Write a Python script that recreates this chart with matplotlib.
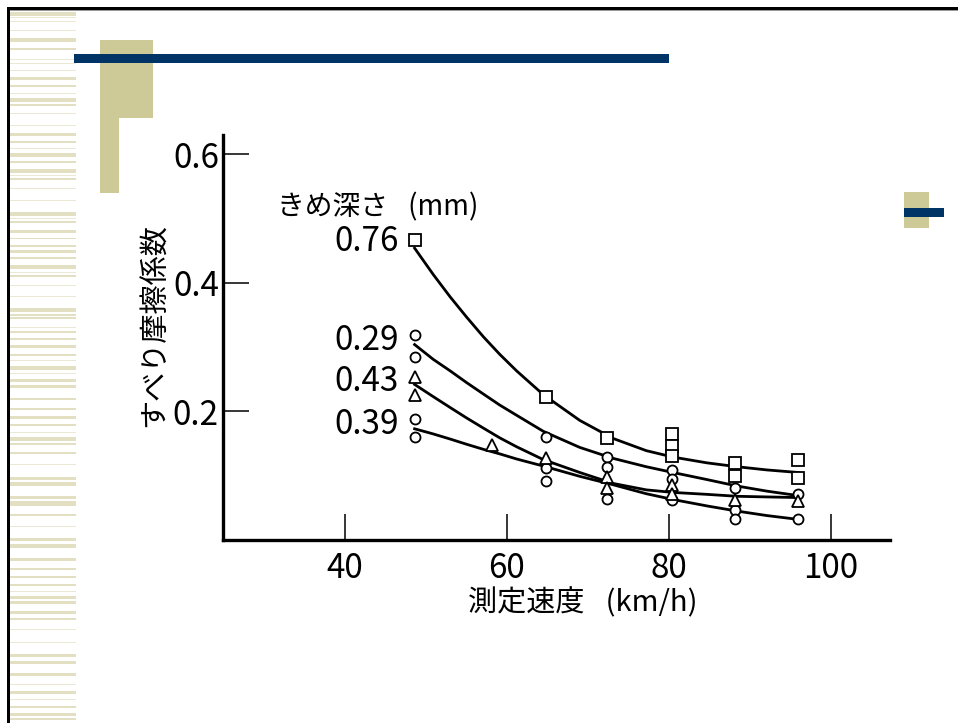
"""
Skid friction coefficient vs measuring speed, by texture depth (slide reproduction).
"""

import matplotlib.pyplot as plt
from matplotlib.patches import Rectangle

plt.rcParams["font.family"] = ["Noto Sans CJK JP", "DejaVu Sans"]

W, H = 958, 723

# texture depth labels (mm)
DEPTHS = ["0.76", "0.29", "0.43", "0.39"]

SQ_X = [48.6, 64.8, 72.4, 80.4, 80.4, 80.4, 88.2, 88.2, 96.0, 96.0]
SQ_Y = [0.466, 0.223, 0.158, 0.165, 0.147, 0.130, 0.120, 0.100, 0.125, 0.097]

C29_X = [48.6, 48.6, 64.8, 72.4, 72.4, 80.4, 80.4, 88.2, 96.0]
C29_Y = [0.319, 0.285, 0.161, 0.129, 0.114, 0.109, 0.095, 0.081, 0.072]

TRI_X = [48.6, 48.6, 58.2, 64.8, 72.4, 72.4, 80.4, 80.4, 88.2, 96.0]
TRI_Y = [0.253, 0.226, 0.148, 0.128, 0.098, 0.081, 0.085, 0.072, 0.063, 0.060]

C39_X = [48.6, 48.6, 64.8, 64.8, 72.4, 80.4, 88.2, 88.2, 96.0]
C39_Y = [0.188, 0.160, 0.112, 0.092, 0.064, 0.062, 0.047, 0.032, 0.032]

# fitted curves
CURVE_X = [48.6, 50.9, 53.0, 55.0, 57.1, 59.1, 61.2, 64.5,
           69.0, 73.1, 77.2, 80.5, 84.7, 88.4, 92.1, 96.0]
CURVE_076 = [0.454, 0.413, 0.378, 0.347, 0.316, 0.289, 0.263, 0.226,
             0.186, 0.158, 0.139, 0.129, 0.120, 0.114, 0.109, 0.105]
CURVE_029 = [0.304, 0.281, 0.263, 0.245, 0.227, 0.210, 0.194, 0.169,
             0.144, 0.127, 0.114, 0.105, 0.094, 0.084, 0.076, 0.069]
CURVE_043 = [0.242, 0.223, 0.206, 0.190, 0.174, 0.159, 0.145, 0.125,
             0.105, 0.088, 0.078, 0.074, 0.071, 0.068, 0.067, 0.066]
CURVE_039 = [0.173, 0.165, 0.157, 0.149, 0.141, 0.134, 0.126, 0.115,
             0.099, 0.086, 0.072, 0.063, 0.053, 0.045, 0.038, 0.032]

X_TICKS = [40, 60, 80, 100]
Y_TICKS = [0.2, 0.4, 0.6]

# slide background stripes (top px, height px)
STRIPES = [
    (12, 3.5), (17, 1), (21, 1.2), (30, 1), (38, 4), (48, 2), (59, 1.2), (63, 1),
    (70, 1), (77, 3), (85, 1.5), (93, 1), (98, 3.5), (104, 1.5), (113, 1), (125, 1),
    (133, 3), (141, 1.5), (148, 1), (153, 4), (161, 1.5), (169, 4), (175, 1),
    (178, 1.5), (188, 1), (200, 1), (212, 4), (218, 1.2), (221, 1.5), (230, 3),
    (238, 1.5), (245, 1.5), (250, 3), (257, 1.5), (265, 3.5), (272, 1), (275, 1.5),
    (285, 1), (296, 1), (308, 4), (314, 1.5), (317, 2), (327, 1), (331, 2),
    (338, 1.5), (345, 3), (354, 1.5), (360, 1), (366, 3.5), (373, 1), (379, 2.5),
    (385, 3), (398, 2), (408, 1.5), (416, 2.5), (424, 1.5), (432, 1), (437, 4),
    (443, 1.5), (452, 1.5), (464, 1), (477, 3), (482, 4), (496, 3), (501, 5),
    (514, 1.5), (526, 1), (538, 3), (544, 4), (558, 3), (568, 1.5), (576, 1.5),
    (584, 1.5), (591, 1), (596, 3), (601, 3), (611, 3), (618, 2), (629, 1),
    (642, 1), (654, 3), (661, 3), (673, 3), (684, 1), (691, 3), (699, 1),
    (706, 2), (713, 2.5), (718, 2),
]

BEIGE = "#cdca98"
BLUE = "#003366"


def px_rect(fig, x, y, w, h, color, z=0):
    fig.add_artist(Rectangle((x / W, 1 - (y + h) / H), w / W, h / H,
                             transform=fig.transFigure, facecolor=color,
                             edgecolor="none", zorder=z))


fig = plt.figure(figsize=(W / 100, H / 100), dpi=100)

# slide decorations
for top, hgt in STRIPES:
    col = "#ebe9d6" if hgt <= 1.2 else "#e2dfc2"
    px_rect(fig, 10, top, 66, hgt, col)
px_rect(fig, 100, 40, 53, 78, BEIGE)
px_rect(fig, 100, 118, 19, 75, BEIGE)
px_rect(fig, 74, 54, 595, 9, BLUE, 1)
px_rect(fig, 904, 192, 25, 36, BEIGE)
px_rect(fig, 904, 208, 40, 9, BLUE, 1)
px_rect(fig, 7, 6.5, 951, 3, "black", 2)
px_rect(fig, 7, 9.5, 951, 1, "#999999", 2)
px_rect(fig, 7, 6.5, 3, 717, "black", 2)

ax = fig.add_axes([223 / W, 1 - 540 / H, (890 - 223) / W, (540 - 135) / H])
ax.set_xlim(24.94, 107.3)
ax.set_ylim(0, 0.63)
ax.patch.set_alpha(0)
for side in ("top", "right"):
    ax.spines[side].set_visible(False)
for side in ("left", "bottom"):
    ax.spines[side].set_linewidth(2.4)

ax.set_xticks(X_TICKS)
ax.set_xticklabels([str(t) for t in X_TICKS])
ax.set_yticks(Y_TICKS)
ax.set_yticklabels([f"{t:.1f}" for t in Y_TICKS])
ax.tick_params(direction="in", length=19, width=1.1, labelsize=24)
ax.tick_params(axis="x", pad=8)
ax.tick_params(axis="y", pad=3)

line_kw = dict(color="black", linewidth=2.0, zorder=2)
for ys in (CURVE_076, CURVE_029, CURVE_043, CURVE_039):
    ax.plot(CURVE_X, ys, **line_kw)

mk_kw = dict(linestyle="none", markerfacecolor="white", markeredgecolor="black",
             markeredgewidth=1.3, zorder=3)
ax.plot(SQ_X, SQ_Y, marker="s", markersize=8, **mk_kw)
ax.plot(C29_X, C29_Y, marker="o", markersize=7.2, **mk_kw)
ax.plot(C39_X, C39_Y, marker="o", markersize=7.2, **mk_kw)
ax.plot(TRI_X, TRI_Y, marker="^", markersize=8.5, **mk_kw)

# depth labels beside the first points
label_y = [0.465, 0.311, 0.246, 0.180]
for lab, ly in zip(DEPTHS, label_y):
    ax.text(46.6, ly, lab, fontsize=24, ha="right", va="center")
ax.text(31.6, 0.517, "きめ深さ\u2002 (mm)", fontsize=20, ha="left", va="center")

fig.text(155 / W, 1 - 325 / H, "すべり摩擦係数", rotation=90, fontsize=21,
         ha="center", va="center")
fig.text(583 / W, 1 - 603 / H, "測定速度\u2002 (km/h)", fontsize=21,
         ha="center", va="center")

fig.savefig("out.png", dpi=100)
